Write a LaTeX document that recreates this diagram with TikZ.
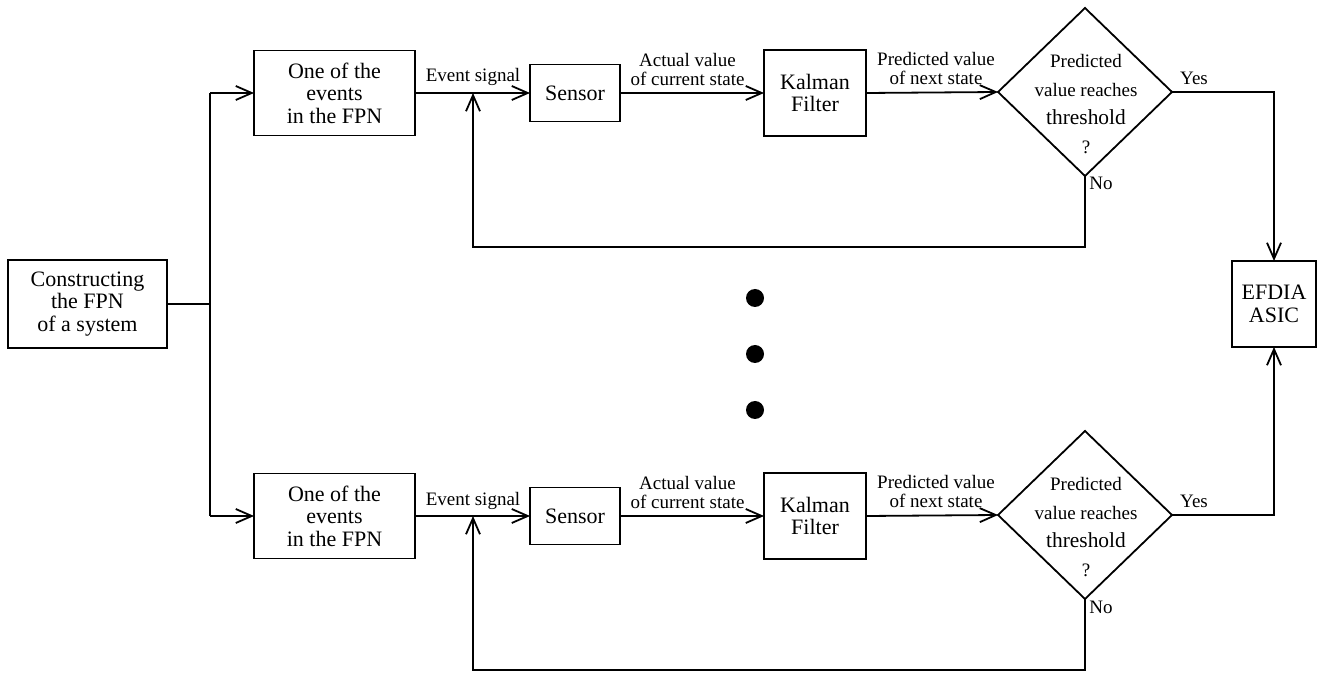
\documentclass[tikz,border=0pt]{standalone}
\usepackage{fontspec}
\setmainfont{Liberation Serif}
\usetikzlibrary{arrows.meta,shapes.geometric}
\begin{document}
\begin{tikzpicture}[x=0.5pt,y=-0.5pt,
  line width=0.9pt,
  >={Straight Barb[length=8pt,width=7pt]},
  box/.style={draw, rectangle, inner sep=0pt, outer sep=0pt, align=center,
    font=\fontsize{11}{11.3}\selectfont},
  decision/.style={draw, diamond, inner sep=0pt, outer sep=0pt,
    minimum width=87pt, minimum height=84pt},
  dtext/.style={inner sep=0pt, align=center, font=\fontsize{9.5}{14.3}\selectfont},
  lbl/.style={inner sep=0pt, align=center, font=\fontsize{9.5}{9.8}\selectfont},
  dot/.style={circle, fill, inner sep=0pt, minimum size=9pt}]
\useasboundingbox (0,0) rectangle (1317,673);

% source and sink
\node[box, minimum width=79.5pt, minimum height=44pt] (cons) at (87.5,304)
  {Constructing\\the FPN\\of a system};
\node[box, minimum width=42pt, minimum height=43pt] (efd) at (1274,304)
  {EFDIA\\ASIC};

% the two monitoring chains
\foreach \r/\dy in {t/0,b/423}{
  \node[box, minimum width=80.5pt, minimum height=42.5pt] (ev\r) at (334.5,93+\dy)
    {One of the\\events\\in the FPN};
  \node[box, minimum width=45pt, minimum height=28.5pt] (sen\r) at (575,93+\dy) {Sensor};
  \node[box, minimum width=51pt, minimum height=43pt] (kal\r) at (815,93+\dy) {Kalman\\Filter};
  \node[decision] (dec\r) at (1085,92+\dy) {};
  \node[dtext] (q\r) at (1086,104+\dy)
    {Predicted\\value reaches\\{\fontsize{10.7}{14.3}\selectfont threshold}\\?};

  \coordinate (split\r) at (210,93+\dy);
  \coordinate (back\r) at (473,93+\dy);
  \coordinate (loop\r) at (473,247+\dy);

  \node[lbl, anchor=base] (les\r) at (473,82+\dy) {Event signal};
  \node[lbl, anchor=south] (lav\r) at (687.5,87+\dy) {Actual value\\of current state};
  \node[lbl, anchor=south] (lpv\r) at (936,86+\dy) {Predicted value\\of next state};
  \node[lbl, anchor=base] (lyes\r) at (1194,85+\dy) {Yes};
  \node[lbl, anchor=base] (lno\r) at (1101,190+\dy) {No};

  \draw[->] (split\r) -- (ev\r.west);
  \draw[->] (ev\r.east) -- (sen\r.west);
  \draw[->] (sen\r.east) -- (kal\r.west);
  \draw[->] (kal\r.east) -- (dec\r.west);
  \draw[->] (dec\r.south) |- (loop\r) -- (back\r);
}

\draw (cons.east) -- (cons.east -| splitt);
\draw (splitt) -- (splitb);
\draw[->] (dect.east) -| (efd.north);
\draw[->] (decb.east) -| (efd.south);

% ellipsis between the chains
\node[dot] (d1) at (755,298) {};
\node[dot] (d2) at (755,354) {};
\node[dot] (d3) at (755,410) {};
\end{tikzpicture}
\end{document}
